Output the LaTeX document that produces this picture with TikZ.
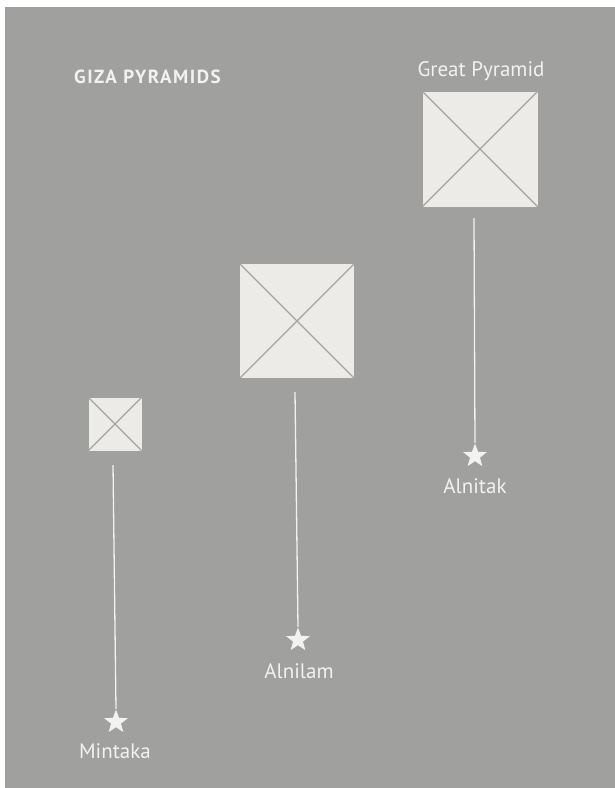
\documentclass[tikz,border=0pt]{standalone}
\usepackage{fontspec}
\setmainfont{PT Sans}
\usetikzlibrary{shapes.geometric}
\definecolor{bggray}{RGB}{160,160,158}
\definecolor{paper}{RGB}{236,235,232}
\definecolor{crossgray}{RGB}{165,164,162}
\definecolor{txt}{RGB}{242,242,240}
\tikzset{
  pyr/.style={fill=paper, draw=none, minimum width=#1, minimum height=#1, inner sep=0pt},
  starmark/.style={star, star points=5, star point ratio=2.4, fill=txt, draw=none, minimum size=25pt, inner sep=0pt},
  lbl/.style={text=txt, font=\fontsize{21}{23}\selectfont, inner sep=0pt},
  guide/.style={draw=txt, line width=1.3pt},
  crossline/.style={draw=crossgray, line width=1.1pt}
}
\begin{document}
\begin{tikzpicture}[x=1pt,y=-1pt]
\useasboundingbox (0,0) rectangle (615,788);
\fill[white] (0,0) rectangle (615,788);
\fill[bggray] (5,7) rectangle (615,788);
% title
\node[text=txt, font=\bfseries\fontsize{19}{21}\selectfont\addfontfeatures{LetterSpace=8}, anchor=west, inner sep=0pt] (title) at (74,77) {GIZA PYRAMIDS};
% Great pyramid
\node[lbl] (gplabel) at (481,71) {Great Pyramid};
\node[pyr=115pt] (gp) at (480,149) {};
\draw[crossline] (gp.north west) -- (gp.south east);
\draw[crossline] (gp.north east) -- (gp.south west);
\coordinate (gptop) at (474,218);
\node[starmark] (s1) at (475,456) {};
\draw[guide] (gptop) -- (s1.north);
\node[lbl] (alnitak) at (475,486) {Alnitak};
% Middle pyramid
\node[pyr=114pt] (mp) at (297,321) {};
\draw[crossline] (mp.north west) -- (mp.south east);
\draw[crossline] (mp.north east) -- (mp.south west);
\coordinate (mptop) at (295,392);
\node[starmark] (s2) at (298,640) {};
\draw[guide] (mptop) -- (s2.north);
\node[lbl] (alnilam) at (299,671) {Alnilam};
% Small pyramid
\node[pyr=53pt] (sp) at (115,424) {};
\draw[crossline] (sp.north west) -- (sp.south east);
\draw[crossline] (sp.north east) -- (sp.south west);
\coordinate (sptop) at (113,465);
\node[starmark] (s3) at (116,722) {};
\draw[guide] (sptop) -- (s3.north);
\node[lbl] (mintaka) at (115,751) {Mintaka};
\end{tikzpicture}
\end{document}
